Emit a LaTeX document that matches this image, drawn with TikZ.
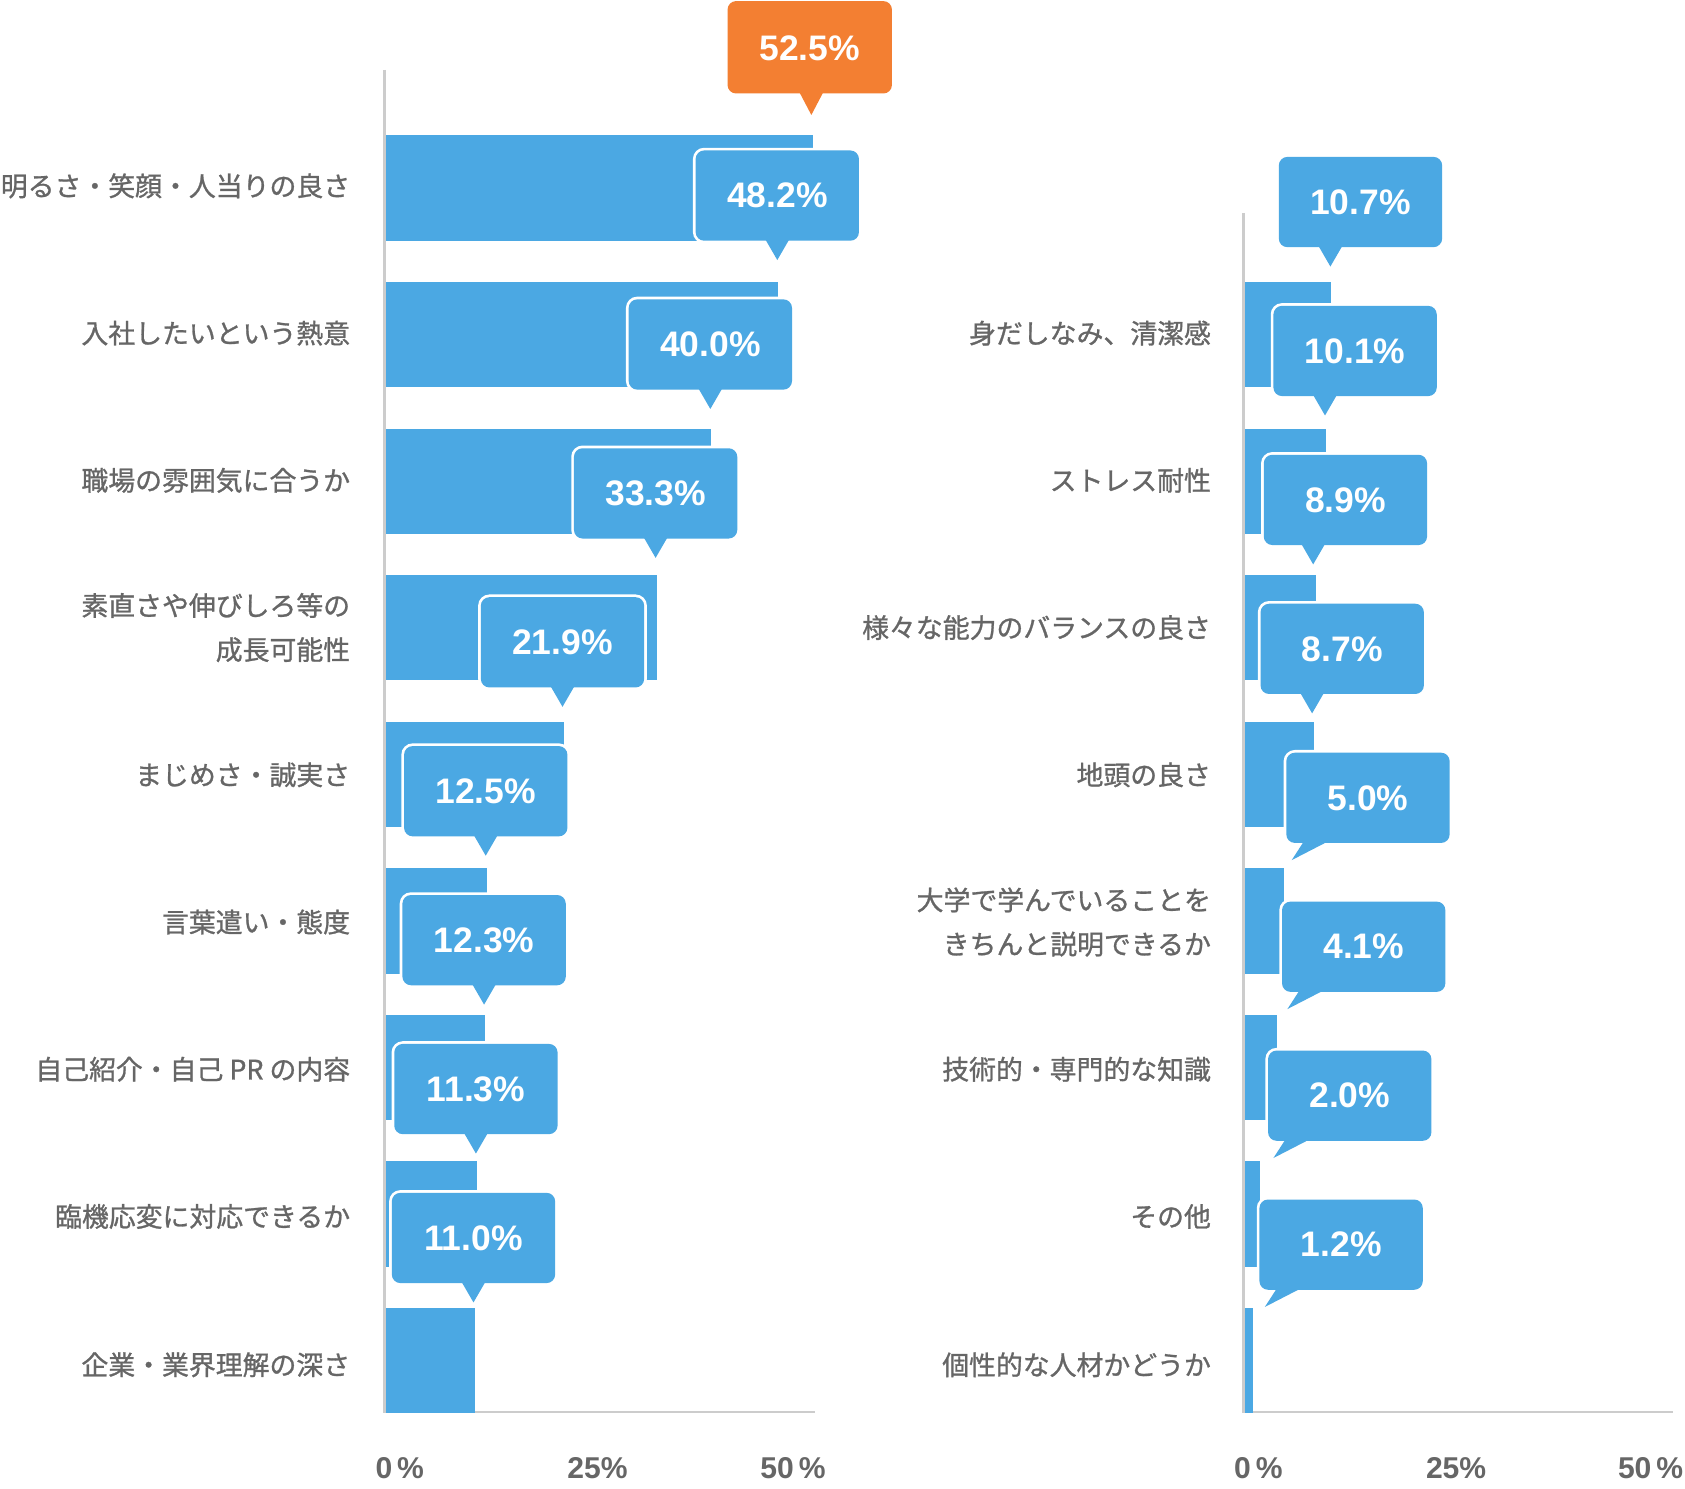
\documentclass[tikz,border=0pt]{standalone}
\usepackage{fontspec}
\newfontfamily\jpfont{Noto Sans CJK JP}[FakeBold=1]
\newfontfamily\numfont{Liberation Sans}
\definecolor{barblue}{HTML}{4BA8E3}
\definecolor{calloutorange}{HTML}{F37F32}
\definecolor{axisgray}{HTML}{CCCCCC}
\definecolor{labelgray}{HTML}{666666}
\tikzset{
  barshape/.style={fill=barblue, draw=none},
  axisline/.style={draw=axisgray, line width=2.5pt},
  catlabel/.style={font=\jpfont\fontsize{25}{41}\selectfont, text=labelgray, anchor=east, align=right, inner sep=0pt},
  ticklabel/.style={font=\numfont\bfseries\fontsize{28}{30}\selectfont, text=labelgray, anchor=center, inner sep=0pt},
  valtext/.style={font=\numfont\bfseries\fontsize{33}{36}\selectfont, text=white, anchor=center, inner sep=0pt},
  ring/.style={draw=white, line width=5pt},
}
% #1 name, #2 left, #3 top, #4 tip x, #5 colour, #6 text  (pointer straight down)
\newcommand\downbubble[6]{%
  \pgfmathsetmacro\bL{#2}\pgfmathsetmacro\bT{#3}\pgfmathsetmacro\bR{#2+152}\pgfmathsetmacro\bB{#3+84}%
  \pgfmathsetmacro\tX{#4}\pgfmathsetmacro\tY{#3+84+18}%
  \draw[ring, rounded corners=8pt] (\bL,\bT) rectangle (\bR,\bB);
  \draw[ring] ({\tX-11},\bB) -- (\tX,\tY) -- ({\tX+11},\bB);
  \fill[#5, rounded corners=8pt] (\bL,\bT) rectangle (\bR,\bB);
  \fill[#5] ({\tX-11},{\bB-1}) -- (\tX,\tY) -- ({\tX+11},{\bB-1}) -- cycle;
  \node[valtext] (#1) at ({#2+76},{#3+42}) {#6};
}
% diagonal pointer at lower left
\newcommand\diagbubble[4]{%
  \pgfmathsetmacro\bL{#2}\pgfmathsetmacro\bT{#3}\pgfmathsetmacro\bR{#2+152}\pgfmathsetmacro\bB{#3+84}%
  \draw[ring, rounded corners=8pt] (\bL,\bT) rectangle (\bR,\bB);
  \draw[ring] ({\bL+16},\bB) -- ({\bL+5},{\bB+16}) -- ({\bL+38},\bB);
  \fill[barblue, rounded corners=8pt] (\bL,\bT) rectangle (\bR,\bB);
  \fill[barblue] ({\bL+16},{\bB-1}) -- ({\bL+5},{\bB+16}) -- ({\bL+38},{\bB-1}) -- cycle;
  \node[valtext] (#1) at ({#2+76},{#3+42}) {#4};
}
\begin{document}
\begin{tikzpicture}[x=1pt,y=-1pt]
\useasboundingbox (0,0) rectangle (1568,1385.6);

% ---------- left chart ----------
\draw[axisline] (358,65) -- (358,1314) -- (758,1314);
\foreach \v [count=\i] in {52.5,48.2,40.0,33.3,21.9,12.5,12.3,11.3,11.0}{
  \pgfmathsetmacro\tp{126+(\i-1)*136.4}
  \fill[barshape] (359.3,\tp) rectangle ({358+7.6*\v},{\tp+98});
}
\node[catlabel] (l1) at (326,173) {明るさ・笑顔・人当りの良さ};
\node[catlabel] (l2) at (326,310) {入社したいという熱意};
\node[catlabel] (l3) at (326,447) {職場の雰囲気に合うか};
\node[catlabel] (l4) at (326,584) {素直さや伸びしろ等の\\成長可能性};
\node[catlabel] (l5) at (326,721) {まじめさ・誠実さ};
\node[catlabel] (l6) at (326,858) {言葉遣い・態度};
\node[catlabel] (l7) at (326,995) {自己紹介・自己 PR の内容};
\node[catlabel] (l8) at (326,1132) {臨機応変に対応できるか};
\node[catlabel] (l9) at (326,1270) {企業・業界理解の深さ};

% orange top callout
\draw[ring, rounded corners=8pt] (677,1) rectangle (830,87);
\fill[calloutorange, rounded corners=8pt] (677,1) rectangle (830,87);
\fill[calloutorange] (744,86) -- (755,107) -- (766,86) -- cycle;
\node[valtext] (v1) at (753.5,45) {52.5\%};

\foreach \v/\t [count=\k from 2] in {48.2/48.2\%,40.0/40.0\%,33.3/33.3\%,21.9/21.9\%,12.5/12.5\%,12.3/12.3\%,11.3/11.3\%,11.0/11.0\%}{
  \pgfmathsetmacro\tx{358+7.6*\v-1}
  \pgfmathsetmacro\bt{140+(\k-2)*138.57}
  \downbubble{v\k}{\tx-76}{\bt}{\tx}{barblue}{\t}
}

\node[ticklabel] (t0) at (372,1366) {0\,\%};
\node[ticklabel] (t25) at (556,1366) {25\%};
\node[ticklabel] (t50) at (738,1366) {50\,\%};

% ---------- right chart ----------
\draw[axisline] (1157,198) -- (1157,1314) -- (1557,1314);
\foreach \v [count=\i] in {10.7,10.1,8.9,8.7,5.0,4.1,2.0,1.2}{
  \pgfmathsetmacro\tp{126+\i*136.4}
  \fill[barshape] (1158.3,\tp) rectangle ({1157+7.6*\v},{\tp+98});
}
\node[catlabel] (r1) at (1127,310) {身だしなみ、清潔感};
\node[catlabel] (r2) at (1127,447) {ストレス耐性};
\node[catlabel] (r3) at (1127,584) {様々な能力のバランスの良さ};
\node[catlabel] (r4) at (1127,721) {地頭の良さ};
\node[catlabel] (r5) at (1127,858) {大学で学んでいることを\\きちんと説明できるか};
\node[catlabel] (r6) at (1127,995) {技術的・専門的な知識};
\node[catlabel] (r7) at (1127,1132) {その他};
\node[catlabel] (r8) at (1127,1270) {個性的な人材かどうか};

\downbubble{w1}{1190}{146}{1238}{barblue}{10.7\%}
\downbubble{w2}{1185}{284.6}{1233}{barblue}{10.1\%}
\downbubble{w3}{1176}{423.2}{1222}{barblue}{8.9\%}
\downbubble{w4}{1173}{561.8}{1221}{barblue}{8.7\%}
\diagbubble{w5}{1197}{700.4}{5.0\%}
\diagbubble{w6}{1193}{839}{4.1\%}
\diagbubble{w7}{1180}{977.6}{2.0\%}
\diagbubble{w8}{1172}{1116.2}{1.2\%}

\node[ticklabel] (s0) at (1171,1366) {0\,\%};
\node[ticklabel] (s25) at (1355,1366) {25\%};
\node[ticklabel] (s50) at (1536,1366) {50\,\%};
\end{tikzpicture}
\end{document}
